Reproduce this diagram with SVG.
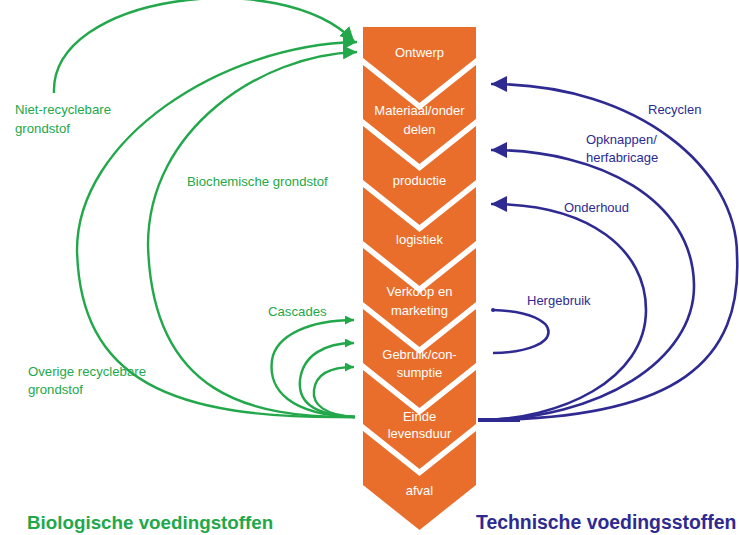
<svg xmlns="http://www.w3.org/2000/svg" width="739" height="535" viewBox="0 0 739 535">
<style>
.chev{fill:#E96E2C}
.ct{font-family:"Liberation Sans",Arial,sans-serif;font-size:13px;fill:#ffffff;text-anchor:middle}
.g{fill:none;stroke:#22A84A;stroke-width:2.4}
.b{fill:none;stroke:#2E2A92;stroke-width:2.6}
.gt{font-family:"Liberation Sans",Arial,sans-serif;font-size:13.2px;fill:#22A84A}
.bt{font-family:"Liberation Sans",Arial,sans-serif;font-size:13px;fill:#2E2A92}
.title{font-family:"Liberation Sans",Arial,sans-serif;font-size:18.8px;font-weight:bold}
</style>
<defs>
<marker id="ga" markerUnits="userSpaceOnUse" markerWidth="14" markerHeight="14" refX="10" refY="5" orient="auto" viewBox="0 0 10 10">
<path d="M0,0 L10,5 L0,10 z" fill="#22A84A"/>
</marker>
<marker id="gas" markerUnits="userSpaceOnUse" markerWidth="9" markerHeight="9" refX="10" refY="5" orient="auto" viewBox="0 0 10 10">
<path d="M0,0 L10,5 L0,10 z" fill="#22A84A"/>
</marker>
<marker id="ba" markerUnits="userSpaceOnUse" markerWidth="16" markerHeight="16" refX="10" refY="5" orient="auto" viewBox="0 0 10 10">
<path d="M0,0 L10,5 L0,10 z" fill="#2E2A92"/>
</marker>
</defs>
<rect width="739" height="535" fill="#ffffff"/>

<g id="ontwerp"><polygon class="chev" points="363,27 476,27 476,58 419.5,103 363,58"/><text class="ct" x="419.5" y="57">Ontwerp</text></g>
<g id="materiaal"><polygon class="chev" points="363,65 419.5,110 476,65 476,119 419.5,164 363,119"/><text class="ct" x="419.5" y="115">Materiaal/onder</text><text class="ct" x="419.5" y="134">delen</text></g>
<g id="productie"><polygon class="chev" points="363,126 419.5,171 476,126 476,180 419.5,225 363,180"/><text class="ct" x="419.5" y="185">productie</text></g>
<g id="logistiek"><polygon class="chev" points="363,187 419.5,232 476,187 476,241 419.5,286 363,241"/><text class="ct" x="419.5" y="244">logistiek</text></g>
<g id="verkoop"><polygon class="chev" points="363,248 419.5,293 476,248 476,302 419.5,347 363,302"/><text class="ct" x="419.5" y="296">Verkoop en</text><text class="ct" x="419.5" y="315">marketing</text></g>
<g id="gebruik"><polygon class="chev" points="363,309 419.5,354 476,309 476,363 419.5,408 363,363"/><text class="ct" x="419.5" y="359">Gebruik/con-</text><text class="ct" x="419.5" y="377">sumptie</text></g>
<g id="einde"><polygon class="chev" points="363,370 419.5,415 476,370 476,424 419.5,469 363,424"/><text class="ct" x="419.5" y="421">Einde</text><text class="ct" x="419.5" y="438">levensduur</text></g>
<g id="afval"><polygon class="chev" points="363,431 419.5,476 476,431 476,485 419.5,530 363,485"/><text class="ct" x="419.5" y="495">afval</text></g>

<g id="connectors">
<path class="g" d="M54,93 C50,-5 280,-35 354,41" marker-end="url(#ga)"/>
<path class="g" d="M355,417 C170,420 80,380 77,250 C77,140 220,45 357,42" marker-end="url(#ga)"/>
<path class="g" d="M355,417 C250,418 152,395 148,245 C148,130 260,55 357,52" marker-end="url(#ga)"/>
<path class="g" d="M355,417 C290,415 268,390 272,360 C276,335 310,320 354,320" marker-end="url(#gas)"/>
<path class="g" d="M355,417 C310,415 298,400 300,380 C303,355 325,343 354,343" marker-end="url(#gas)"/>
<path class="g" d="M355,417 C325,415 312,405 314,390 C316,373 333,367 354,367" marker-end="url(#gas)"/>

<path class="b" d="M478,420 C680,420 742,360 737,255 C737,170 640,84 491,84" marker-end="url(#ba)"/>
<path class="b" d="M478,420 C600,420 695,360 694,285 C693,200 600,150 491,150" marker-end="url(#ba)"/>
<path class="b" d="M478,420 C560,420 646,380 646,310 C646,250 590,204 491,204" marker-end="url(#ba)"/>
<path class="b" d="M493,310 C567,312 567,352 493,353"/>
<circle cx="493" cy="310" r="2" fill="#2E2A92"/>
<path d="M478,420 L520,420" stroke="#2E2A92" stroke-width="4"/>
</g>

<g id="labels">
<text class="gt" x="15" y="114">Niet-recyclebare</text>
<text class="gt" x="15" y="133">grondstof</text>
<text class="gt" x="187" y="186">Biochemische grondstof</text>
<text class="gt" x="268" y="316">Cascades</text>
<text class="gt" x="28" y="376">Overige recyclebare</text>
<text class="gt" x="28" y="394">grondstof</text>
<text class="bt" x="648" y="114">Recyclen</text>
<text class="bt" x="586" y="144">Opknappen/</text>
<text class="bt" x="586" y="162">herfabricage</text>
<text class="bt" x="564" y="212">Onderhoud</text>
<text class="bt" x="527" y="305">Hergebruik</text>
<text class="title" x="27" y="529" fill="#22A84A">Biologische voedingstoffen</text>
<text class="title" x="476" y="529" fill="#2E2A92" style="font-size:19.4px">Technische voedingsstoffen</text>
</g>
</svg>
